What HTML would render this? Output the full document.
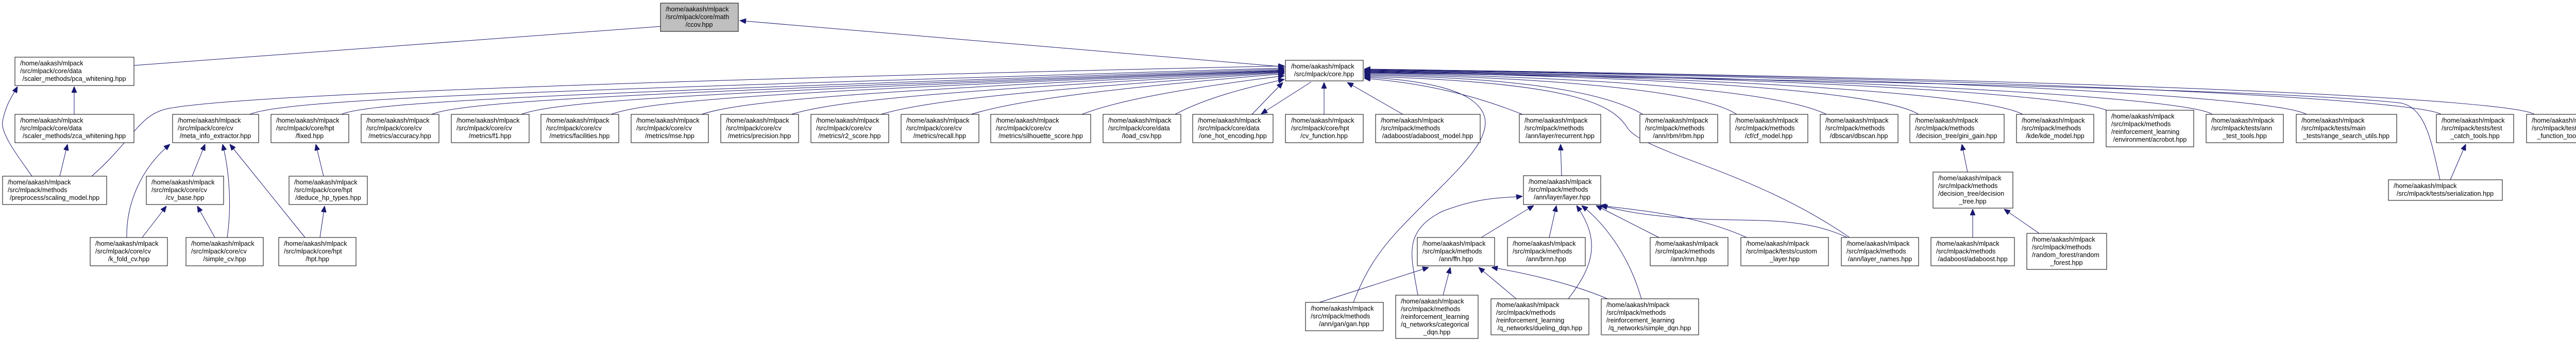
<!DOCTYPE html>
<html><head><meta charset="utf-8"><style>
html,body{margin:0;padding:0;background:#fff;}
svg{display:block;}
text{font-family:"Liberation Sans",sans-serif;font-size:12.6px;fill:#000;}
.b{fill:#fff;stroke:#000;stroke-width:1;}
.e{fill:none;stroke:#191970;stroke-width:1;}
</style></head><body>
<svg width="5059" height="660" viewBox="0 0 5059 660" xmlns="http://www.w3.org/2000/svg">
<defs><marker id="a" viewBox="0 0 12 10" refX="12" refY="5" markerWidth="12" markerHeight="10" orient="auto" markerUnits="userSpaceOnUse"><path d="M0,0 L12,5 L0,10 z" fill="#191970" stroke="#191970"/></marker></defs>
<g class="edges">
<path class="e" marker-end="url(#a)" d="M260,127 L1434,40"/>
<path class="e" marker-end="url(#a)" d="M2495,130 L1436,40"/>
<path class="e" marker-end="url(#a)" d="M144,222 L144,168"/>
<path class="e" marker-end="url(#a)" d="M62,342 C40,310 0,260 5,235 C12,200 25,185 34,168"/>
<path class="e" marker-end="url(#a)" d="M116,342 L131,280"/>
<path class="e" marker-end="url(#a)" d="M178,342 C260,270 270,220 330,210 C500,180 1500,150 2493,128"/>
<path class="e" marker-end="url(#a)" d="M485,222 C560,190 1100,175 2493,132"/>
<path class="e" marker-end="url(#a)" d="M663,222 C720,195 1200,178 2493,134"/>
<path class="e" marker-end="url(#a)" d="M838,222 C900,195 1300,178 2493,136"/>
<path class="e" marker-end="url(#a)" d="M1012,222 C1080,195 1400,178 2493,137"/>
<path class="e" marker-end="url(#a)" d="M1186,222 C1260,195 1500,178 2493,138"/>
<path class="e" marker-end="url(#a)" d="M1362,222 C1440,195 1700,175 2493,139"/>
<path class="e" marker-end="url(#a)" d="M1536,222 C1620,195 1850,175 2493,140"/>
<path class="e" marker-end="url(#a)" d="M1710,222 C1800,195 2000,175 2493,141"/>
<path class="e" marker-end="url(#a)" d="M1885,222 C1970,195 2150,172 2493,143"/>
<path class="e" marker-end="url(#a)" d="M2100,222 C2180,190 2350,165 2493,147"/>
<path class="e" marker-end="url(#a)" d="M2281,222 C2340,190 2420,170 2493,154"/>
<path class="e" marker-end="url(#a)" d="M2430,222 L2490,160"/>
<path class="e" marker-end="url(#a)" d="M2545,159 L2448,221"/>
<path class="e" marker-end="url(#a)" d="M2570,222 L2570,160"/>
<path class="e" marker-end="url(#a)" d="M2723,222 L2615,160"/>
<path class="e" marker-end="url(#a)" d="M2955,222 C2850,180 2750,160 2648,152"/>
<path class="e" marker-end="url(#a)" d="M3189,222 C3100,170 2900,150 2648,146"/>
<path class="e" marker-end="url(#a)" d="M3371,222 C3300,175 3000,150 2648,144"/>
<path class="e" marker-end="url(#a)" d="M3545,222 C3450,175 3100,150 2648,142"/>
<path class="e" marker-end="url(#a)" d="M3724,222 C3650,175 3200,148 2648,140"/>
<path class="e" marker-end="url(#a)" d="M3926,222 C3850,180 3300,148 2648,139"/>
<path class="e" marker-end="url(#a)" d="M4089,214 C4000,180 3400,148 2648,138"/>
<path class="e" marker-end="url(#a)" d="M4294,222 C4250,190 3600,150 2648,137"/>
<path class="e" marker-end="url(#a)" d="M4477,222 C4420,190 3800,150 2648,136"/>
<path class="e" marker-end="url(#a)" d="M4738,222 C4700,195 4000,152 2648,135"/>
<path class="e" marker-end="url(#a)" d="M4919,222 C4880,195 4200,155 2648,134"/>
<path class="e" marker-end="url(#a)" d="M4736,349 C4720,280 4710,210 4660,200 C4400,170 3200,150 2648,141"/>
<path class="e" marker-end="url(#a)" d="M2627,587 C2660,500 2700,460 2760,400 C2850,310 2930,240 2850,190 C2800,160 2700,152 2648,150"/>
<path class="e" marker-end="url(#a)" d="M3590,461 C3400,330 3200,300 3160,250 C3130,200 3050,160 2648,148"/>
<path class="e" marker-end="url(#a)" d="M373,342 L398,280"/>
<path class="e" marker-end="url(#a)" d="M246,461 C245,400 270,330 330,280"/>
<path class="e" marker-end="url(#a)" d="M276,461 L323,400"/>
<path class="e" marker-end="url(#a)" d="M417,461 L383,400"/>
<path class="e" marker-end="url(#a)" d="M441,461 C450,400 445,330 432,280"/>
<path class="e" marker-end="url(#a)" d="M592,461 L446,280"/>
<path class="e" marker-end="url(#a)" d="M621,461 L630,400"/>
<path class="e" marker-end="url(#a)" d="M628,342 L613,280"/>
<path class="e" marker-end="url(#a)" d="M3031,341 L3029,280"/>
<path class="e" marker-end="url(#a)" d="M2875,461 L2977,399"/>
<path class="e" marker-end="url(#a)" d="M3007,461 L3021,399"/>
<path class="e" marker-end="url(#a)" d="M3220,461 L3098,399"/>
<path class="e" marker-end="url(#a)" d="M3390,461 C3300,420 3200,410 3105,399"/>
<path class="e" marker-end="url(#a)" d="M3585,461 C3500,420 3400,430 3300,425 C3200,420 3150,410 3108,399"/>
<path class="e" marker-end="url(#a)" d="M3044,580 C3090,520 3110,470 3060,399"/>
<path class="e" marker-end="url(#a)" d="M3186,580 C3160,490 3110,430 3070,399"/>
<path class="e" marker-end="url(#a)" d="M2752,573 C2740,500 2720,450 2800,410 C2880,380 2920,385 2955,381"/>
<path class="e" marker-end="url(#a)" d="M2561,587 L2773,519"/>
<path class="e" marker-end="url(#a)" d="M2801,573 L2815,519"/>
<path class="e" marker-end="url(#a)" d="M2943,580 L2870,519"/>
<path class="e" marker-end="url(#a)" d="M3120,580 C3050,550 2960,530 2895,519"/>
<path class="e" marker-end="url(#a)" d="M3819,334 L3808,280"/>
<path class="e" marker-end="url(#a)" d="M3829,461 L3829,406"/>
<path class="e" marker-end="url(#a)" d="M3958,453 L3890,406"/>
<path class="e" marker-end="url(#a)" d="M4756,349 L4786,280"/>
</g>
<g class="nodes">
<rect x="1282" y="6" width="151" height="55" style="fill:#bfbfbf;stroke:#000"/><text x="1292" y="22">/home/aakash/mlpack</text><text x="1292" y="37">/src/mlpack/core/math</text><text x="1357" y="52" text-anchor="middle">/ccov.hpp</text>
<rect class="b" x="29" y="111" width="231" height="55"/><text x="39" y="127">/home/aakash/mlpack</text><text x="39" y="142">/src/mlpack/core/data</text><text x="144" y="157" text-anchor="middle">/scaler_methods/pca_whitening.hpp</text>
<rect class="b" x="29" y="222" width="231" height="55"/><text x="39" y="238">/home/aakash/mlpack</text><text x="39" y="253">/src/mlpack/core/data</text><text x="144" y="268" text-anchor="middle">/scaler_methods/zca_whitening.hpp</text>
<rect class="b" x="2495" y="117" width="151" height="40"/><text x="2506" y="133">/home/aakash/mlpack</text><text x="2570" y="148" text-anchor="middle">/src/mlpack/core.hpp</text>
<rect class="b" x="335" y="222" width="167" height="55"/><text x="345" y="238">/home/aakash/mlpack</text><text x="345" y="253">/src/mlpack/core/cv</text><text x="418" y="268" text-anchor="middle">/meta_info_extractor.hpp</text>
<rect class="b" x="526" y="222" width="151" height="55"/><text x="536" y="238">/home/aakash/mlpack</text><text x="536" y="253">/src/mlpack/core/hpt</text><text x="601" y="268" text-anchor="middle">/fixed.hpp</text>
<rect class="b" x="701" y="222" width="151" height="55"/><text x="711" y="238">/home/aakash/mlpack</text><text x="711" y="253">/src/mlpack/core/cv</text><text x="776" y="268" text-anchor="middle">/metrics/accuracy.hpp</text>
<rect class="b" x="876" y="222" width="151" height="55"/><text x="886" y="238">/home/aakash/mlpack</text><text x="886" y="253">/src/mlpack/core/cv</text><text x="951" y="268" text-anchor="middle">/metrics/f1.hpp</text>
<rect class="b" x="1050" y="222" width="151" height="55"/><text x="1060" y="238">/home/aakash/mlpack</text><text x="1060" y="253">/src/mlpack/core/cv</text><text x="1125" y="268" text-anchor="middle">/metrics/facilities.hpp</text>
<rect class="b" x="1225" y="222" width="150" height="55"/><text x="1235" y="238">/home/aakash/mlpack</text><text x="1235" y="253">/src/mlpack/core/cv</text><text x="1300" y="268" text-anchor="middle">/metrics/mse.hpp</text>
<rect class="b" x="1399" y="222" width="151" height="55"/><text x="1409" y="238">/home/aakash/mlpack</text><text x="1409" y="253">/src/mlpack/core/cv</text><text x="1474" y="268" text-anchor="middle">/metrics/precision.hpp</text>
<rect class="b" x="1574" y="222" width="151" height="55"/><text x="1584" y="238">/home/aakash/mlpack</text><text x="1584" y="253">/src/mlpack/core/cv</text><text x="1649" y="268" text-anchor="middle">/metrics/r2_score.hpp</text>
<rect class="b" x="1749" y="222" width="151" height="55"/><text x="1759" y="238">/home/aakash/mlpack</text><text x="1759" y="253">/src/mlpack/core/cv</text><text x="1824" y="268" text-anchor="middle">/metrics/recall.hpp</text>
<rect class="b" x="1923" y="222" width="194" height="55"/><text x="1933" y="238">/home/aakash/mlpack</text><text x="1933" y="253">/src/mlpack/core/cv</text><text x="2020" y="268" text-anchor="middle">/metrics/silhouette_score.hpp</text>
<rect class="b" x="2141" y="222" width="151" height="55"/><text x="2151" y="238">/home/aakash/mlpack</text><text x="2151" y="253">/src/mlpack/core/data</text><text x="2216" y="268" text-anchor="middle">/load_csv.hpp</text>
<rect class="b" x="2315" y="222" width="156" height="55"/><text x="2325" y="238">/home/aakash/mlpack</text><text x="2325" y="253">/src/mlpack/core/data</text><text x="2393" y="268" text-anchor="middle">/one_hot_encoding.hpp</text>
<rect class="b" x="2495" y="222" width="151" height="55"/><text x="2506" y="238">/home/aakash/mlpack</text><text x="2506" y="253">/src/mlpack/core/hpt</text><text x="2570" y="268" text-anchor="middle">/cv_function.hpp</text>
<rect class="b" x="2670" y="222" width="203" height="55"/><text x="2680" y="238">/home/aakash/mlpack</text><text x="2680" y="253">/src/mlpack/methods</text><text x="2771" y="268" text-anchor="middle">/adaboost/adaboost_model.hpp</text>
<rect class="b" x="2949" y="222" width="158" height="55"/><text x="2959" y="238">/home/aakash/mlpack</text><text x="2959" y="253">/src/mlpack/methods</text><text x="3028" y="268" text-anchor="middle">/ann/layer/recurrent.hpp</text>
<rect class="b" x="3183" y="222" width="151" height="55"/><text x="3193" y="238">/home/aakash/mlpack</text><text x="3193" y="253">/src/mlpack/methods</text><text x="3258" y="268" text-anchor="middle">/ann/rbm/rbm.hpp</text>
<rect class="b" x="3358" y="222" width="151" height="55"/><text x="3368" y="238">/home/aakash/mlpack</text><text x="3368" y="253">/src/mlpack/methods</text><text x="3433" y="268" text-anchor="middle">/cf/cf_model.hpp</text>
<rect class="b" x="3533" y="222" width="151" height="55"/><text x="3543" y="238">/home/aakash/mlpack</text><text x="3543" y="253">/src/mlpack/methods</text><text x="3608" y="268" text-anchor="middle">/dbscan/dbscan.hpp</text>
<rect class="b" x="3707" y="222" width="183" height="55"/><text x="3717" y="238">/home/aakash/mlpack</text><text x="3717" y="253">/src/mlpack/methods</text><text x="3798" y="268" text-anchor="middle">/decision_tree/gini_gain.hpp</text>
<rect class="b" x="3914" y="222" width="150" height="55"/><text x="3924" y="238">/home/aakash/mlpack</text><text x="3924" y="253">/src/mlpack/methods</text><text x="3989" y="268" text-anchor="middle">/kde/kde_model.hpp</text>
<rect class="b" x="4088" y="214" width="170" height="71"/><text x="4098" y="230">/home/aakash/mlpack</text><text x="4098" y="245">/src/mlpack/methods</text><text x="4098" y="260">/reinforcement_learning</text><text x="4173" y="275" text-anchor="middle">/environment/acrobot.hpp</text>
<rect class="b" x="4282" y="222" width="150" height="55"/><text x="4292" y="238">/home/aakash/mlpack</text><text x="4292" y="253">/src/mlpack/tests/ann</text><text x="4357" y="268" text-anchor="middle">_test_tools.hpp</text>
<rect class="b" x="4457" y="222" width="195" height="55"/><text x="4467" y="238">/home/aakash/mlpack</text><text x="4467" y="253">/src/mlpack/tests/main</text><text x="4554" y="268" text-anchor="middle">_tests/range_search_utils.hpp</text>
<rect class="b" x="4729" y="222" width="150" height="55"/><text x="4739" y="238">/home/aakash/mlpack</text><text x="4739" y="253">/src/mlpack/tests/test</text><text x="4804" y="268" text-anchor="middle">_catch_tools.hpp</text>
<rect class="b" x="4904" y="222" width="150" height="55"/><text x="4914" y="238">/home/aakash/mlpack</text><text x="4914" y="253">/src/mlpack/tests/test</text><text x="4979" y="268" text-anchor="middle">_function_tools.hpp</text>
<rect class="b" x="5" y="342" width="202" height="55"/><text x="15" y="358">/home/aakash/mlpack</text><text x="15" y="373">/src/mlpack/methods</text><text x="106" y="388" text-anchor="middle">/preprocess/scaling_model.hpp</text>
<rect class="b" x="284" y="342" width="150" height="55"/><text x="294" y="358">/home/aakash/mlpack</text><text x="294" y="373">/src/mlpack/core/cv</text><text x="359" y="388" text-anchor="middle">/cv_base.hpp</text>
<rect class="b" x="561" y="342" width="152" height="55"/><text x="571" y="358">/home/aakash/mlpack</text><text x="571" y="373">/src/mlpack/core/hpt</text><text x="637" y="388" text-anchor="middle">/deduce_hp_types.hpp</text>
<rect class="b" x="2957" y="341" width="150" height="56"/><text x="2967" y="357">/home/aakash/mlpack</text><text x="2967" y="372">/src/mlpack/methods</text><text x="3032" y="387" text-anchor="middle">/ann/layer/layer.hpp</text>
<rect class="b" x="3752" y="334" width="155" height="70"/><text x="3762" y="350">/home/aakash/mlpack</text><text x="3762" y="365">/src/mlpack/methods</text><text x="3762" y="380">/decision_tree/decision</text><text x="3829" y="395" text-anchor="middle">_tree.hpp</text>
<rect class="b" x="4636" y="349" width="221" height="40"/><text x="4646" y="365">/home/aakash/mlpack</text><text x="4746" y="380" text-anchor="middle">/src/mlpack/tests/serialization.hpp</text>
<rect class="b" x="175" y="461" width="150" height="55"/><text x="185" y="477">/home/aakash/mlpack</text><text x="185" y="492">/src/mlpack/core/cv</text><text x="250" y="507" text-anchor="middle">/k_fold_cv.hpp</text>
<rect class="b" x="361" y="461" width="150" height="55"/><text x="371" y="477">/home/aakash/mlpack</text><text x="371" y="492">/src/mlpack/core/cv</text><text x="436" y="507" text-anchor="middle">/simple_cv.hpp</text>
<rect class="b" x="541" y="461" width="150" height="55"/><text x="551" y="477">/home/aakash/mlpack</text><text x="551" y="492">/src/mlpack/core/hpt</text><text x="616" y="507" text-anchor="middle">/hpt.hpp</text>
<rect class="b" x="2751" y="461" width="150" height="55"/><text x="2761" y="477">/home/aakash/mlpack</text><text x="2761" y="492">/src/mlpack/methods</text><text x="2826" y="507" text-anchor="middle">/ann/ffn.hpp</text>
<rect class="b" x="2926" y="461" width="151" height="55"/><text x="2936" y="477">/home/aakash/mlpack</text><text x="2936" y="492">/src/mlpack/methods</text><text x="3001" y="507" text-anchor="middle">/ann/brnn.hpp</text>
<rect class="b" x="3203" y="461" width="151" height="55"/><text x="3213" y="477">/home/aakash/mlpack</text><text x="3213" y="492">/src/mlpack/methods</text><text x="3278" y="507" text-anchor="middle">/ann/rnn.hpp</text>
<rect class="b" x="3379" y="461" width="170" height="55"/><text x="3389" y="477">/home/aakash/mlpack</text><text x="3389" y="492">/src/mlpack/tests/custom</text><text x="3464" y="507" text-anchor="middle">_layer.hpp</text>
<rect class="b" x="3574" y="461" width="150" height="55"/><text x="3584" y="477">/home/aakash/mlpack</text><text x="3584" y="492">/src/mlpack/methods</text><text x="3649" y="507" text-anchor="middle">/ann/layer_names.hpp</text>
<rect class="b" x="3748" y="461" width="162" height="55"/><text x="3758" y="477">/home/aakash/mlpack</text><text x="3758" y="492">/src/mlpack/methods</text><text x="3829" y="507" text-anchor="middle">/adaboost/adaboost.hpp</text>
<rect class="b" x="3934" y="453" width="155" height="70"/><text x="3944" y="469">/home/aakash/mlpack</text><text x="3944" y="484">/src/mlpack/methods</text><text x="3944" y="499">/random_forest/random</text><text x="4011" y="514" text-anchor="middle">_forest.hpp</text>
<rect class="b" x="2534" y="587" width="151" height="55"/><text x="2544" y="603">/home/aakash/mlpack</text><text x="2544" y="618">/src/mlpack/methods</text><text x="2609" y="633" text-anchor="middle">/ann/gan/gan.hpp</text>
<rect class="b" x="2709" y="573" width="160" height="84"/><text x="2719" y="589">/home/aakash/mlpack</text><text x="2719" y="604">/src/mlpack/methods</text><text x="2719" y="619">/reinforcement_learning</text><text x="2719" y="634">/q_networks/categorical</text><text x="2789" y="649" text-anchor="middle">_dqn.hpp</text>
<rect class="b" x="2894" y="580" width="190" height="70"/><text x="2904" y="596">/home/aakash/mlpack</text><text x="2904" y="611">/src/mlpack/methods</text><text x="2904" y="626">/reinforcement_learning</text><text x="2989" y="641" text-anchor="middle">/q_networks/dueling_dqn.hpp</text>
<rect class="b" x="3108" y="580" width="189" height="70"/><text x="3118" y="596">/home/aakash/mlpack</text><text x="3118" y="611">/src/mlpack/methods</text><text x="3118" y="626">/reinforcement_learning</text><text x="3202" y="641" text-anchor="middle">/q_networks/simple_dqn.hpp</text>
</g>
</svg>
</body></html>
